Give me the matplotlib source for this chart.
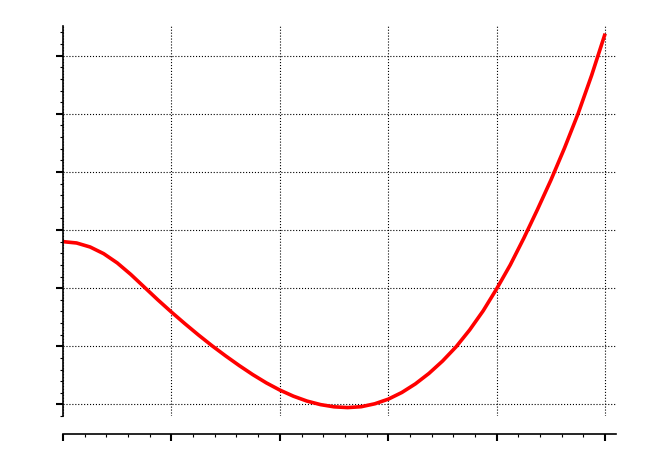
import numpy as np
import matplotlib
matplotlib.use('Agg')
from matplotlib import pyplot as plt
from matplotlib.ticker import MultipleLocator, NullFormatter

# values
x_vals = [0.0, 0.125, 0.25, 0.375, 0.5, 0.625, 0.75, 0.875, 1.0, 1.125,
          1.25, 1.375, 1.5, 1.625, 1.75, 1.875, 2.0, 2.125, 2.25, 2.375,
          2.5, 2.625, 2.75, 2.875, 3.0, 3.125, 3.25, 3.375, 3.5, 3.625,
          3.75, 3.875, 4.0, 4.125, 4.25, 4.375, 4.5, 4.625, 4.75, 4.875, 5.0]
y_vals = [2.80, 2.777, 2.708, 2.593, 2.434, 2.236, 2.017, 1.798, 1.588, 1.387,
          1.193, 1.008, 0.834, 0.668, 0.512, 0.370, 0.246, 0.141, 0.057, -0.004,
          -0.042, -0.055, -0.040, 0.010, 0.090, 0.205, 0.353, 0.533, 0.745, 0.990,
          1.280, 1.610, 1.990, 2.400, 2.860, 3.350, 3.860, 4.410, 5.000, 5.660, 6.380]

fig = plt.figure(figsize=(6.64, 4.68), dpi=100)
ax = fig.add_axes([0.0949, 0.1111, 0.8328, 0.8333])

ax.plot(x_vals, y_vals, color='red', linewidth=2.6, solid_capstyle='butt')

ax.set_xlim(0, 5.1)
ax.set_ylim(-0.2, 6.51)

ax.xaxis.set_major_locator(MultipleLocator(1))
ax.xaxis.set_minor_locator(MultipleLocator(0.2))
ax.yaxis.set_major_locator(MultipleLocator(1))
ax.yaxis.set_minor_locator(MultipleLocator(0.2))
ax.xaxis.set_major_formatter(NullFormatter())
ax.yaxis.set_major_formatter(NullFormatter())

ax.spines['top'].set_visible(False)
ax.spines['right'].set_visible(False)
ax.spines['bottom'].set_position(('outward', 13.3))
for s in ('left', 'bottom'):
    ax.spines[s].set_linewidth(1.2)

ax.tick_params(which='major', direction='out', length=5, width=1.5,
               left=True, bottom=True, right=False, top=False)
ax.tick_params(which='minor', direction='out', length=2.5, width=0.8,
               left=True, bottom=True, right=False, top=False)

ax.grid(True, which='major', linestyle=':', color='black', linewidth=0.8)

plt.savefig('out.png', dpi=100)
